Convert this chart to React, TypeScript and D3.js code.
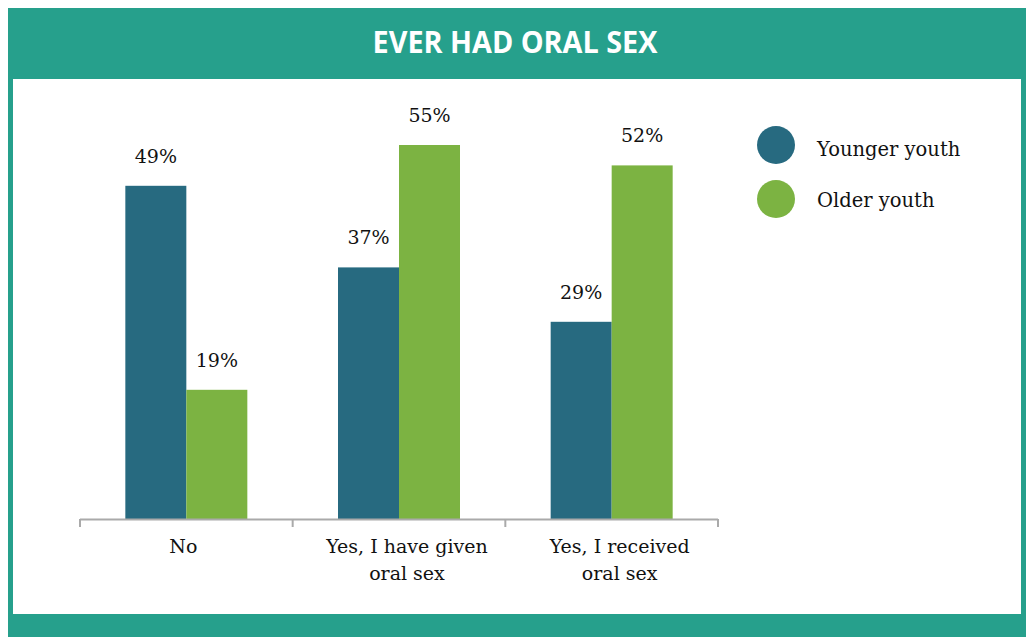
import React from "react";
import * as d3 from "d3";

const categories = ["No", "Yes, I have given|oral sex", "Yes, I received|oral sex"];
const younger = [49, 37, 29];
const older = [19, 55, 52];
const seriesNames = ["Younger youth", "Older youth"];
const colors = ["#276A80", "#7CB342"];

export default function App() {
  const W = 1026, H = 637;
  const x = d3.scaleBand<number>().domain([0, 1, 2]).range([80, 718]).paddingInner(0).paddingOuter(0);
  const y = d3.scaleLinear().domain([0, 60]).range([519, 111]);
  const barW = 61;
  const font = "'DejaVu Serif', serif";
  const series = [younger, older];
  const labelDx = [-3, 8, 8];
  return (
    <svg width={W} height={H} style={{ position: "absolute", left: 0, top: 0 }}>
      <rect x={8} y={8} width={1018} height={629} fill="#26A08C" />
      <rect x={13} y={79} width={1008} height={535} fill="#ffffff" />
      <text x={515} y={53} textAnchor="middle" fill="#fff" fontFamily="'Open Sans', sans-serif" fontWeight={700} fontSize={30} transform="translate(515,0) scale(0.96,1) translate(-515,0)">EVER HAD ORAL SEX</text>
      {series.map((vals, s) =>
        vals.map((v, i) => {
          const cx = (x(i) as number) + x.bandwidth() / 2;
          const bx = cx - barW + s * barW;
          return (
            <g key={s + "-" + i}>
              <rect x={bx} y={y(v)} width={barW} height={y(0) - y(v)} fill={colors[s]} />
              <text x={bx + barW / 2} y={y(v) - 23} textAnchor="middle" fontFamily={font} fontSize={19} fill="#111">{v}%</text>
            </g>
          );
        })
      )}
      <line x1={80} x2={718} y1={519.5} y2={519.5} stroke="#aaa" strokeWidth={2} />
      {[0, 1, 2, 3].map((k) => {
        const tx = 80 + k * x.bandwidth();
        return <line key={k} x1={tx} x2={tx} y1={519} y2={527} stroke="#aaa" strokeWidth={2} />;
      })}
      {categories.map((c, i) => {
        const cx = (x(i) as number) + x.bandwidth() / 2 + labelDx[i];
        return (
          <text key={i} textAnchor="middle" fontFamily={font} fontSize={19} fill="#111">
            {c.split("|").map((ln, j) => (
              <tspan key={j} x={cx} y={553 + j * 27}>{ln}</tspan>
            ))}
          </text>
        );
      })}
      {seriesNames.map((n, i) => (
        <g key={n}>
          <circle cx={776} cy={145 + i * 54} r={19} fill={colors[i]} />
          <text x={817} y={156 + i * 51} fontFamily={font} fontSize={19.5} fill="#111">{n}</text>
        </g>
      ))}
    </svg>
  );
}
